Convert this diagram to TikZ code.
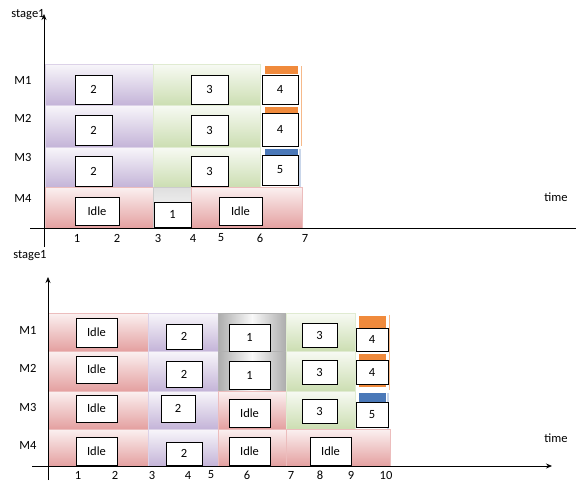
\documentclass[tikz,border=0pt]{standalone}
\usepackage{fontspec}
\setmainfont{Carlito}
\usepackage{xcolor}
\usepackage{tikz}
\usetikzlibrary{calc, positioning, arrows.meta}

\definecolor{lilac}{RGB}{196,180,216}
\definecolor{sage}{RGB}{204,222,178}
\definecolor{rosy}{RGB}{228,160,160}
\definecolor{tangerine}{RGB}{240,138,60}
\definecolor{steel}{RGB}{74,120,184}

\begin{document}
\begin{tikzpicture}[>={Stealth[length=6pt, width=5pt]}, x=1pt, y=-1pt,
    jobbox/.style={draw, line width=1pt, fill=white, inner sep=0pt,
        font=\fontsize{12.5}{14}\selectfont},
    axlabel/.style={font=\fontsize{12.5}{14}\selectfont},
    lilacblock/.style={top color=lilac!12, bottom color=lilac, draw=lilac!60, thin},
    sageblock/.style={top color=sage!15, bottom color=sage, draw=sage!60, thin},
    rosyblock/.style={top color=rosy!15, bottom color=rosy, draw=rosy!70, thin},
    greyblock/.style={left color=gray!65, right color=gray!65, middle color=gray!5, draw=gray!60, thin}]

    \useasboundingbox (0,0) rectangle (576,485);

    % =================================================================
    % 1. STAGE 1, FIRST SCHEDULE (TOP)
    % =================================================================
    % blocks of each machine row
    \foreach \ya/\yb in {64/105, 105/147, 147/187} {
        \shade[lilacblock] (45,\ya) rectangle (153,\yb);
        \shade[sageblock] (153,\ya) rectangle (260,\yb);
    }
    \shade[rosyblock] (45,187) rectangle (153,228);
    \shade[top color=gray!25, bottom color=white, draw=gray!40, thin] (153,187) rectangle (191,228);
    \shade[rosyblock] (191,187) rectangle (302,228);

    % right edges of the last jobs
    \draw[tangerine!60, line width=1pt] (301,66) -- (301,146);
    \draw[steel!30, line width=1.5pt] (300,149) -- (300,187);
    \fill[tangerine] (265,66) rectangle (298,74);
    \fill[tangerine] (265,107) rectangle (298,113);
    \fill[steel] (265,149) rectangle (298,155);

    % job boxes
    \foreach \nm/\xa/\ya/\xb/\yb/\txt in {
        ja/75/75/112/104/2, jb/75/115/112/145/2, jc/75/156/112/186/2,
        jd/75/197/119/225/Idle, je/154/202/191/227/1,
        jf/191/75/228/104/3, jg/191/115/228/145/3, jh/191/156/228/186/3,
        ji/219/197/262/225/Idle,
        jj/262/75/298/104/4, jk/262/113/298/146/4, jl/262/155/298/185/5} {
        \node[jobbox, minimum width={(\xb-\xa)*1pt}, minimum height={(\yb-\ya)*1pt}]
            (\nm) at ({(\xa+\xb)/2}, {(\ya+\yb)/2}) {\txt};
    }

    % axes
    \coordinate (ya1) at (44,247);
    \coordinate (yb1) at (44,14);
    \coordinate (xa1) at (30,228);
    \coordinate (xb1) at (576,228);
    \draw[->, line width=0.7pt] (ya1) -- (yb1);
    \draw[line width=0.7pt] (xa1) -- (xb1);
    \node[axlabel] (stg1) at (28,15) {stage1};
    \node[axlabel] (tm1) at (556,197) {time};

    % machine labels
    \foreach \y/\m in {80/1, 118/2, 157/3, 198/4} {
        \node[axlabel] (ma\m) at (23,\y) {M\m};
    }

    % ticks on the time axis
    \foreach \x/\t in {77/1, 117/2, 158/3, 193/4, 221/5, 260/6, 305/7} {
        \node[axlabel] (ta\t) at (\x,238) {\t};
    }

    % =================================================================
    % 2. STAGE 1, SECOND SCHEDULE (BOTTOM)
    % =================================================================
    \foreach \ya/\yb in {313/351, 351/391, 391/429, 429/466} {
        \shade[rosyblock] (48,\ya) rectangle (148,\yb);
        \shade[lilacblock] (148,\ya) rectangle (218,\yb);
    }
    \foreach \ya/\yb in {313/351, 351/391} {
        \shade[greyblock] (218,\ya) rectangle (286,\yb);
    }
    \foreach \ya/\yb in {391/429, 429/466} {
        \shade[rosyblock] (218,\ya) rectangle (286,\yb);
    }
    \foreach \ya/\yb in {313/351, 351/391, 391/429} {
        \shade[sageblock] (286,\ya) rectangle (355,\yb);
    }
    \shade[rosyblock] (286,429) rectangle (390,466);

    \draw[tangerine!60, line width=1pt] (389,315) -- (389,390);
    \draw[steel!30, line width=1.5pt] (388,393) -- (388,429);
    \fill[tangerine] (359,316) rectangle (386,328);
    \fill[tangerine] (359,354) rectangle (386,387);
    \fill[steel] (359,393) rectangle (386,402);

    \foreach \nm/\xa/\ya/\xb/\yb/\txt in {
        ka/76/318/117/347/Idle, kb/76/356/117/383/Idle,
        kc/76/395/117/422/Idle, kd/76/437/117/465/Idle,
        ke/166/324/202/349/2, kf/166/361/202/387/2,
        kg/161/395/195/422/2, kh/166/442/202/465/2,
        ki/229/324/270/351/1, kj/229/361/270/389/1,
        kk/229/399/270/427/Idle, kl/229/437/270/465/Idle,
        km/302/323/337/347/3, kn/302/360/337/384/3, ko/302/399/337/423/3,
        kp/356/328/388/351/4, kq/356/360/388/384/4, kr/356/402/388/427/5,
        ks/310/437/351/465/Idle} {
        \node[jobbox, minimum width={(\xb-\xa)*1pt}, minimum height={(\yb-\ya)*1pt}]
            (\nm) at ({(\xa+\xb)/2}, {(\ya+\yb)/2}) {\txt};
    }

    \coordinate (ya2) at (48,480);
    \coordinate (yb2) at (48,277);
    \coordinate (xa2) at (32,466);
    \coordinate (xb2) at (552,466);
    \draw[->, line width=0.7pt] (ya2) -- (yb2);
    \draw[->, line width=0.7pt] (xa2) -- (xb2);
    \node[axlabel] (stg2) at (30,256) {stage1};
    \node[axlabel] (tm2) at (556,438) {time};

    \foreach \y/\m in {330/1, 368/2, 407/3, 445/4} {
        \node[axlabel] (mb\m) at (28,\y) {M\m};
    }

    \foreach \x/\t in {78/1, 115/2, 152/3, 188/4, 211/5, 247/6, 291/7, 320/8, 351/9, 386/10} {
        \node[axlabel] (tb\t) at (\x,475) {\t};
    }

\end{tikzpicture}
\end{document}
